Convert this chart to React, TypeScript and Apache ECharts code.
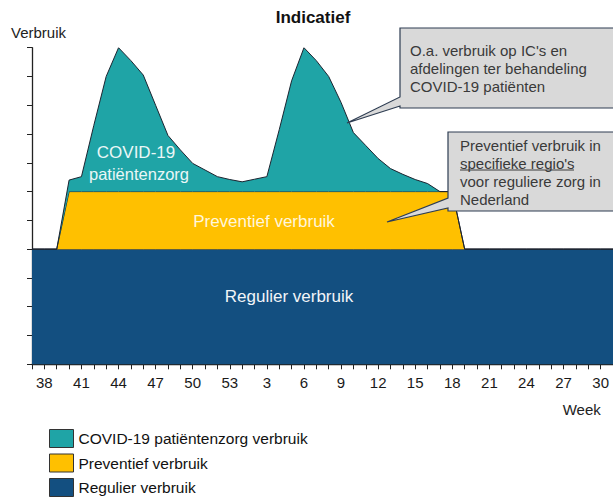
import React, { useEffect, useRef } from 'react';
import * as echarts from 'echarts';

const weeks = [
  '37', '38', '39', '40', '41', '42', '43', '44', '45', '46', '47', '48', '49', '50', '51', '52', '53',
  '1', '2', '3', '4', '5', '6', '7', '8', '9', '10', '11', '12', '13', '14', '15', '16', '17', '18', '19', '20',
  '21', '22', '23', '24', '25', '26', '27', '28', '29', '30', '31',
];

const regulier = [
  4, 4, 4, 4, 4, 4, 4, 4, 4, 4, 4, 4, 4, 4, 4, 4, 4,
  4, 4, 4, 4, 4, 4, 4, 4, 4, 4, 4, 4, 4, 4, 4, 4, 4, 4, 4, 4,
  4, 4, 4, 4, 4, 4, 4, 4, 4, 4, 4,
];

const preventief = [
  0, 0, 0, 2, 2, 2, 2, 2, 2, 2, 2, 2, 2, 2, 2, 2, 2,
  2, 2, 2, 2, 2, 2, 2, 2, 2, 2, 2, 2, 2, 2, 2, 2, 2, 2, 0, 0,
  0, 0, 0, 0, 0, 0, 0, 0, 0, 0, 0,
];

const covid = [
  0, 0, 0, 0.4, 0.52, 2.3, 4.0, 5.0, 4.55, 4.05, 3.0, 1.95, 1.45, 0.98, 0.75, 0.52, 0.42,
  0.34, 0.43, 0.52, 2.15, 3.85, 5.0, 4.55, 4.0, 3.1, 2.05, 1.6, 1.15, 0.8, 0.6, 0.42, 0.28, 0, 0, 0, 0,
  0, 0, 0, 0, 0, 0, 0, 0, 0, 0, 0,
];

const seriesNames = ['COVID-19 patiëntenzorg verbruik', 'Preventief verbruik', 'Regulier verbruik'];
const colors = { covid: '#1FA4A6', preventief: '#FFC000', regulier: '#134F80' };

const FONT = '"Liberation Sans", Arial, sans-serif';
const OUTLINE = '#1c2430';

export default function App() {
  const ref = useRef<HTMLDivElement>(null);

  useEffect(() => {
    if (!ref.current) return;
    const chart = echarts.init(ref.current, null, { renderer: 'svg' });

    const areaSeries = (name: string, data: number[], color: string, z: number) => ({
      name,
      type: 'line',
      stack: 'total',
      data,
      symbol: 'none',
      z,
      itemStyle: { color },
      lineStyle: { color: OUTLINE, width: 1 },
      areaStyle: { color, opacity: 1 },
      emphasis: { disabled: true },
    });

    const txt = (x: number, y: number, text: string, size: number, color: string, align = 'left', weight = 'normal') => ({
      type: 'text',
      x,
      y,
      z: 100,
      style: {
        text,
        fill: color,
        font: `${weight} ${size}px ${FONT}`,
        textAlign: align,
        textVerticalAlign: 'middle',
      },
    });

    const calloutStyle = { fill: '#D9D9D9', stroke: '#2E3D52', lineWidth: 1.2 };

    chart.setOption({
      animation: false,
      grid: { left: 32, right: 0, top: 47.7, bottom: 132.7, containLabel: false },
      xAxis: {
        type: 'category',
        data: weeks,
        boundaryGap: false,
        axisLine: { show: true, lineStyle: { color: '#222', width: 1.3 } },
        axisTick: { show: true, interval: 0, length: 5, lineStyle: { color: '#222' } },
        axisLabel: {
          interval: (index: number) => index % 3 === 1,
          fontSize: 15,
          fontFamily: FONT,
          color: '#1a1a1a',
          margin: 11,
        },
        splitLine: { show: false },
      },
      yAxis: {
        type: 'value',
        min: 0,
        max: 11,
        interval: 1,
        axisLine: { show: true, lineStyle: { color: '#222', width: 1.3 } },
        axisTick: { show: true, length: 5, lineStyle: { color: '#222' } },
        axisLabel: { show: false },
        splitLine: { show: false },
      },
      legend: {
        orient: 'vertical',
        left: 49,
        top: 429,
        height: 90,
        padding: 0,
        itemWidth: 24,
        itemHeight: 18,
        itemGap: 5.5,
        icon: 'rect',
        selectedMode: false,
        textStyle: { fontSize: 15.5, fontFamily: FONT, color: '#111', lineHeight: 18 },
        data: [
          { name: seriesNames[0], itemStyle: { color: colors.covid, borderColor: '#333', borderWidth: 1 } },
          { name: seriesNames[1], itemStyle: { color: colors.preventief, borderColor: '#333', borderWidth: 1 } },
          { name: seriesNames[2], itemStyle: { color: colors.regulier, borderColor: '#333', borderWidth: 1 } },
        ],
      },
      series: [
        areaSeries(seriesNames[2], regulier, colors.regulier, 2),
        areaSeries(seriesNames[1], preventief, colors.preventief, 3),
        areaSeries(seriesNames[0], covid, colors.covid, 4),
      ],
      graphic: [
        txt(313, 17, 'Indicatief', 17, '#111', 'center', 'bold'),
        txt(11, 32, 'Verbruik', 15, '#222'),
        txt(581.7, 409.5, 'Week', 15, '#222', 'center'),
        txt(136, 152, 'COVID-19', 17, '#EAF7F7', 'center'),
        txt(139, 173.5, 'patiëntenzorg', 16.5, '#EAF7F7', 'center'),
        txt(264, 221, 'Preventief verbruik', 17, '#FFF6DC', 'center'),
        txt(289, 296, 'Regulier verbruik', 17, '#F2F5F8', 'center'),
        {
          type: 'polygon',
          z: 99,
          shape: { points: [[400, 28], [616, 28], [616, 108], [400, 108], [400, 106], [347, 123], [400, 97]] },
          style: calloutStyle,
        },
        txt(410, 50, "O.a. verbruik op IC's en", 15, '#3a3a3a'),
        txt(410, 68.3, 'afdelingen ter behandeling', 15, '#3a3a3a'),
        txt(410, 86.7, 'COVID-19 patiënten', 15, '#3a3a3a'),
        {
          type: 'polygon',
          z: 99,
          shape: { points: [[448, 132], [616, 132], [616, 211], [448, 211], [448, 208], [387, 222], [448, 198]] },
          style: calloutStyle,
        },
        txt(460, 145, 'Preventief verbruik in', 15, '#3a3a3a'),
        txt(460, 163.3, "specifieke regio's", 15, '#3a3a3a'),
        {
          type: 'line',
          z: 100,
          shape: { x1: 460, y1: 170, x2: 574, y2: 170 },
          style: { stroke: '#3a3a3a', lineWidth: 1 },
        },
        txt(460, 181.7, 'voor reguliere zorg in', 15, '#3a3a3a'),
        txt(460, 199.3, 'Nederland', 15, '#3a3a3a'),
      ],
    });

    return () => chart.dispose();
  }, []);

  return <div ref={ref} style={{ position: 'absolute', left: 0, top: 0, width: 613, height: 497 }} />;
}
